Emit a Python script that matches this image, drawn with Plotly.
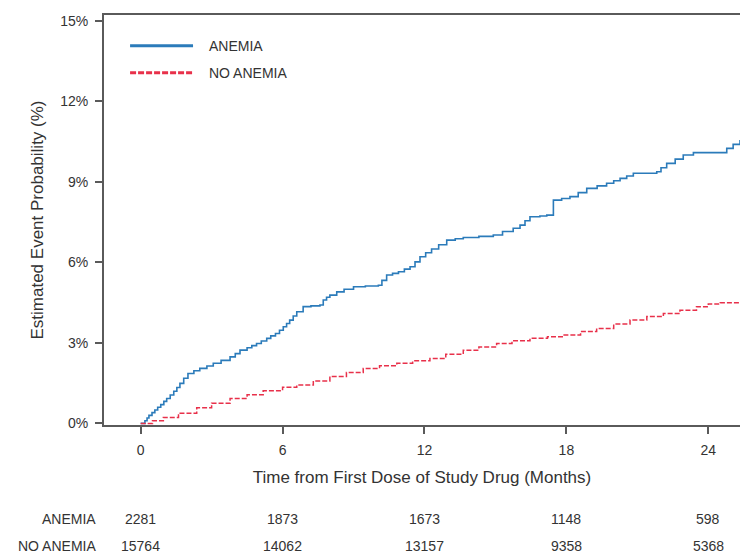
import plotly.graph_objects as go

# ---- data ----
anemia_t = [0, 0.18, 0.27, 0.35, 0.48, 0.6, 0.72, 0.85, 0.98, 1.1, 1.25, 1.4, 1.53, 1.66, 1.82, 2.0,
            2.25, 2.5, 2.8, 3.07, 3.4, 3.78, 4.0, 4.2, 4.5, 4.7, 4.9, 5.1, 5.33, 5.5, 5.7, 5.87,
            6.03, 6.17, 6.3, 6.45, 6.6, 6.87, 7.2, 7.58, 7.72, 7.86, 8.0, 8.29, 8.6, 9.0, 9.5,
            10.05, 10.2, 10.4, 10.65, 10.9, 11.15, 11.39, 11.6, 11.81, 12.05, 12.3, 12.6, 12.94,
            13.3, 13.64, 14.3, 14.91, 15.3, 15.75, 16.04, 16.25, 16.46, 16.88, 17.17,
            17.45, 17.8, 18.15, 18.5, 18.86, 19.3, 19.7, 20.0, 20.27, 20.55, 20.83, 21.82, 22.0,
            22.24, 22.6, 22.94, 23.37, 24.63, 24.78, 25.05, 25.34]
anemia_y = [0, 0.10, 0.20, 0.30, 0.40, 0.50, 0.60, 0.70, 0.82, 0.93, 1.06, 1.20, 1.34, 1.49, 1.68, 1.86,
            1.96, 2.05, 2.14, 2.24, 2.35, 2.48, 2.60, 2.73, 2.82, 2.90, 2.98, 3.07, 3.17, 3.26, 3.35, 3.47,
            3.60, 3.72, 3.85, 4.00, 4.16, 4.35, 4.38, 4.41, 4.60, 4.70, 4.78, 4.90, 5.00, 5.09, 5.12,
            5.15, 5.33, 5.53, 5.59, 5.65, 5.75, 5.84, 6.02, 6.21, 6.36, 6.50, 6.66, 6.83,
            6.88, 6.93, 6.97, 7.02, 7.15, 7.27, 7.39, 7.55, 7.70, 7.73, 7.76,
            8.32, 8.38, 8.45, 8.60, 8.76, 8.85, 8.95, 9.04, 9.13, 9.22, 9.32, 9.38, 9.53,
            9.69, 9.85, 10.00, 10.09, 10.09, 10.25, 10.40, 10.56]

noanemia_t = [0, 0.5, 0.96, 1.6, 2.37, 3.0, 3.78, 4.5, 5.18, 6.0, 6.6, 7.3, 8.0, 8.7, 9.41,
              10.1, 10.83, 11.5, 12.23, 12.9, 13.64, 14.3, 15.05, 15.7, 16.46, 17.2, 17.87,
              18.6, 19.28, 20.0, 20.69, 21.4, 22.1, 22.8, 23.5, 24.0, 24.5, 25.34]
noanemia_y = [0, 0.10, 0.22, 0.38, 0.58, 0.75, 0.93, 1.07, 1.22, 1.35, 1.43, 1.58, 1.75, 1.90, 2.05,
              2.15, 2.24, 2.33, 2.42, 2.58, 2.73, 2.85, 2.98, 3.08, 3.17, 3.23, 3.29,
              3.42, 3.54, 3.70, 3.85, 3.98, 4.10, 4.22, 4.35, 4.45, 4.50, 4.50]

risk_times = [0, 6, 12, 18, 24]
risk_anemia = [2281, 1873, 1673, 1148, 598]
risk_noanemia = [15764, 14062, 13157, 9358, 5368]

x_ticks = [0, 6, 12, 18, 24]
y_ticks = [0, 3, 6, 9, 12, 15]

group_names = ["ANEMIA", "NO ANEMIA"]
BLUE = "#2b7bba"
RED = "#e8304a"
AXIS = "#5a5a5a"
TXT = "#333333"
FONT = "Liberation Sans, Arial, sans-serif"

fig = go.Figure()
fig.add_trace(go.Scatter(x=anemia_t, y=anemia_y, mode="lines", line_shape="hv",
                         line=dict(color=BLUE, width=1.6), name=group_names[0], showlegend=False))
fig.add_trace(go.Scatter(x=noanemia_t, y=noanemia_y, mode="lines", line_shape="hv",
                         line=dict(color=RED, width=1.5, dash="5px,2px"), name=group_names[1],
                         showlegend=False))

# manual legend (paper coordinates)
legend_items = [(group_names[0], BLUE, "solid", 0.925), (group_names[1], RED, "6px,2px", 0.859)]
for name, col, dash, yp in legend_items:
    fig.add_shape(type="line", xref="paper", yref="paper", x0=0.041, x1=0.140, y0=yp, y1=yp,
                  line=dict(color=col, width=3, dash=dash))
    fig.add_annotation(xref="paper", yref="paper", x=0.162, y=yp, text=name, showarrow=False,
                       xanchor="left", yanchor="middle",
                       font=dict(family=FONT, size=14, color=TXT))

# risk table
row_y = [-0.229, -0.295]
for name, vals, yp in [(group_names[0], risk_anemia, row_y[0]), (group_names[1], risk_noanemia, row_y[1])]:
    fig.add_annotation(xref="paper", yref="paper", x=-0.009, y=yp, text=name, showarrow=False,
                       xanchor="right", yanchor="middle",
                       font=dict(family=FONT, size=14, color=TXT))
    for t, v in zip(risk_times, vals):
        fig.add_annotation(xref="x", yref="paper", x=t, y=yp, text=str(v), showarrow=False,
                           xanchor="center", yanchor="middle",
                           font=dict(family=FONT, size=14, color=TXT))

fig.update_layout(
    width=740, height=554,
    margin=dict(l=104, r=0, t=15, b=129),
    paper_bgcolor="white", plot_bgcolor="white",
    font=dict(family=FONT, color=TXT),
    showlegend=False,
)
fig.update_xaxes(
    range=[-1.55, 25.34], tickvals=x_ticks, ticktext=[str(v) for v in x_ticks],
    showgrid=False, zeroline=False, showline=True, linecolor=AXIS, linewidth=2, mirror=True,
    ticks="outside", ticklen=7, tickwidth=1.5, tickcolor=AXIS, ticklabelstandoff=4,
    tickfont=dict(family=FONT, size=14, color=TXT),
    title=dict(text="Time from First Dose of Study Drug (Months)",
               font=dict(family=FONT, size=17, color=TXT), standoff=14),
)
fig.update_yaxes(
    range=[-0.06, 15.22], tickvals=y_ticks, ticktext=[f"{v}%" for v in y_ticks],
    showgrid=False, zeroline=False, showline=True, linecolor=AXIS, linewidth=2, mirror=False,
    ticks="outside", ticklen=7, tickwidth=1.5, tickcolor=AXIS, ticklabelstandoff=4,
    tickfont=dict(family=FONT, size=14, color=TXT),
    title=dict(text="Estimated Event Probability (%)",
               font=dict(family=FONT, size=17, color=TXT), standoff=12),
)

fig.write_html("out.html")
